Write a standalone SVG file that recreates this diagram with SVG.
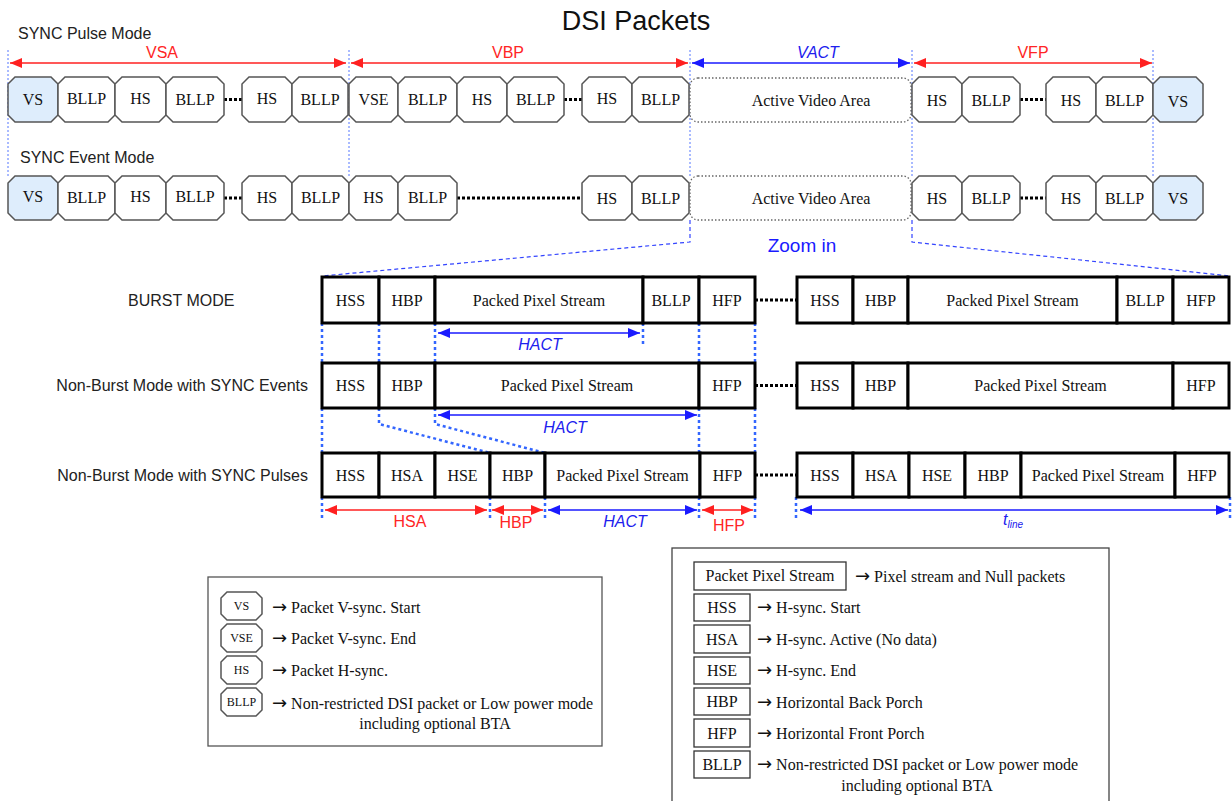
<svg xmlns="http://www.w3.org/2000/svg" width="1232" height="801" viewBox="0 0 1232 801">
<style>
.oct{fill:#fff;stroke:#555;stroke-width:1.5}
.octb{fill:#deedfc;stroke:#555;stroke-width:1.5}
.bt{font-family:"Liberation Serif",serif;font-size:16px;fill:#111;text-anchor:middle}
.lt{font-family:"Liberation Serif",serif;font-size:16px;fill:#111}
.ar{font-family:"DejaVu Sans",sans-serif;font-size:18px}
.st{font-family:"Liberation Serif",serif;font-size:12px;fill:#111;text-anchor:middle}
.sans{font-family:"Liberation Sans",Arial,sans-serif;font-size:16px;fill:#222}
.cell{fill:#fff;stroke:#000;stroke-width:3}
.lg{fill:#fff;stroke:#333;stroke-width:1.3}
.dots{stroke:#000;stroke-width:3;stroke-dasharray:3 2;fill:none}
.vthin{stroke:#5577ff;stroke-width:1;stroke-dasharray:2 2;fill:none}
.vthick{stroke:#3366ff;stroke-width:2.5;stroke-dasharray:3 3;fill:none}
.zoom{stroke:#3344ff;stroke-width:1.2;stroke-dasharray:4 3;fill:none}
.ared{stroke:#ff2020;stroke-width:1.5;fill:none;marker-start:url(#rs);marker-end:url(#re)}
.ablue{stroke:#1a1aff;stroke-width:1.5;fill:none;marker-start:url(#bs);marker-end:url(#be)}
.red{font-family:"Liberation Sans",Arial,sans-serif;font-size:16px;fill:#ff2525;text-anchor:middle}
.blue{font-family:"Liberation Sans",Arial,sans-serif;font-size:16px;fill:#2020ee;text-anchor:middle;font-style:italic}
.ava{fill:#fff;stroke:#666;stroke-width:1.3;stroke-dasharray:1.5 2}
</style>
<defs>
<marker id="re" viewBox="0 0 12 10" refX="12" refY="5" markerWidth="12" markerHeight="10" markerUnits="userSpaceOnUse" orient="auto"><path d="M0,0 L12,5 L0,10 Z" fill="#ff2020"/></marker>
<marker id="rs" viewBox="0 0 12 10" refX="0" refY="5" markerWidth="12" markerHeight="10" markerUnits="userSpaceOnUse" orient="auto"><path d="M12,0 L0,5 L12,10 Z" fill="#ff2020"/></marker>
<marker id="be" viewBox="0 0 12 10" refX="12" refY="5" markerWidth="12" markerHeight="10" markerUnits="userSpaceOnUse" orient="auto"><path d="M0,0 L12,5 L0,10 Z" fill="#1a1aff"/></marker>
<marker id="bs" viewBox="0 0 12 10" refX="0" refY="5" markerWidth="12" markerHeight="10" markerUnits="userSpaceOnUse" orient="auto"><path d="M12,0 L0,5 L12,10 Z" fill="#1a1aff"/></marker>
</defs>
<rect width="1232" height="801" fill="#fff"/>

<text x="636" y="30" font-family="Liberation Sans, Arial, sans-serif" font-size="27" fill="#111" text-anchor="middle">DSI Packets</text>
<text class="sans" x="18" y="39">SYNC Pulse Mode</text>
<text class="sans" x="20" y="163">SYNC Event Mode</text>
<text x="802" y="252" font-family="Liberation Sans, Arial, sans-serif" font-size="19" fill="#1a1aff" text-anchor="middle">Zoom in</text>
<text class="sans" x="128" y="306">BURST MODE</text>
<text class="sans" x="308" y="391" text-anchor="end">Non-Burst Mode with SYNC Events</text>
<text class="sans" x="308" y="481" text-anchor="end">Non-Burst Mode with SYNC Pulses</text>

<g id="connectors">
<path class="vthin" d="M8,50 V178 M349,50 V178 M690,50 V178 M912,50 V178 M1153,50 V178"/>
<path class="zoom" d="M690,220 V242 L322,276 M912,220 V242 L1230,276"/>
<path class="vthick" d="M322,323 V363 M379,323 V363 M435,323 V363 M699,323 V363 M755,323 V363 M643,323 V347"/>
<path class="vthick" d="M322,408 V453 M699,408 V453 M755,408 V453 M379,408 V424 L490,453 M435,408 V424 L545,453"/>
<path class="vthick" d="M322,497 V521 M490,497 V521 M545,497 V521 M699,497 V521 M755,497 V521 M796,497 V521 M1230,497 V521"/>
<path class="dots" d="M224,99.5 H242 M564,99.5 H582 M1020,99.5 H1046"/>
<path class="dots" d="M224,198 H242 M457,198 H582 M1020,198 H1046"/>
<path class="dots" d="M755,300 H796 M755,385.5 H796 M755,475 H796"/>
<path class="ared" d="M10,63 H346"/>
<path class="ared" d="M351,63 H688"/>
<path class="ablue" d="M692,63 H910"/>
<path class="ared" d="M914,63 H1152"/>
<path class="ablue" d="M438,333 H640"/>
<path class="ablue" d="M438,415 H697"/>
<path class="ared" d="M325,510 H487"/>
<path class="ared" d="M492,510 H543"/>
<path class="ablue" d="M548,510 H697"/>
<path class="ared" d="M702,510 H753"/>
<path class="ablue" d="M800,510 H1228"/>
</g>

<g id="dim-labels">
<text class="red" x="162" y="58">VSA</text>
<text class="red" x="508" y="58">VBP</text>
<text class="blue" x="818" y="58">VACT</text>
<text class="red" x="1033" y="58">VFP</text>
<text class="blue" x="540" y="350">HACT</text>
<text class="blue" x="565" y="433">HACT</text>
<text class="red" x="410" y="527">HSA</text>
<text class="red" x="516" y="528">HBP</text>
<text class="blue" x="625" y="527">HACT</text>
<text class="red" x="729" y="531">HFP</text>
<text x="1003" y="525" font-family="Liberation Sans, Arial, sans-serif" font-size="16" fill="#2020ee" font-style="italic">t<tspan font-size="10" dy="3">line</tspan></text>
</g>

<g id="row1">
<g id="r1-vs"><path class="octb" d="M15,77 H51 L58,84 V115 L51,122 H15 L8,115 V84 Z"/><text class="bt" x="33" y="105">VS</text></g>
<g id="r1-bllp1"><path class="oct" d="M65,77 H108 L115,84 V115 L108,122 H65 L58,115 V84 Z"/><text class="bt" x="86.5" y="104">BLLP</text></g>
<g id="r1-hs1"><path class="oct" d="M122,77 H159 L166,84 V115 L159,122 H122 L115,115 V84 Z"/><text class="bt" x="140.5" y="104">HS</text></g>
<g id="r1-bllp2"><path class="oct" d="M173,77 H217 L224,84 V115 L217,122 H173 L166,115 V84 Z"/><text class="bt" x="195" y="105">BLLP</text></g>
<g id="r1-hs2"><path class="oct" d="M249,77 H285 L292,84 V115 L285,122 H249 L242,115 V84 Z"/><text class="bt" x="267" y="104">HS</text></g>
<g id="r1-bllp3"><path class="oct" d="M299,77 H341 L348,84 V115 L341,122 H299 L292,115 V84 Z"/><text class="bt" x="320" y="105">BLLP</text></g>
<g id="r1-vse"><path class="oct" d="M356,77 H391 L398,84 V115 L391,122 H356 L349,115 V84 Z"/><text class="bt" x="373.5" y="105">VSE</text></g>
<g id="r1-bllp4"><path class="oct" d="M405,77 H450 L457,84 V115 L450,122 H405 L398,115 V84 Z"/><text class="bt" x="427.5" y="105">BLLP</text></g>
<g id="r1-hs3"><path class="oct" d="M464,77 H500 L507,84 V115 L500,122 H464 L457,115 V84 Z"/><text class="bt" x="482" y="105">HS</text></g>
<g id="r1-bllp5"><path class="oct" d="M514,77 H557 L564,84 V115 L557,122 H514 L507,115 V84 Z"/><text class="bt" x="535.5" y="105">BLLP</text></g>
<g id="r1-hs4"><path class="oct" d="M589,77 H625 L632,84 V115 L625,122 H589 L582,115 V84 Z"/><text class="bt" x="607" y="104">HS</text></g>
<g id="r1-bllp6"><path class="oct" d="M639,77 H682 L689,84 V115 L682,122 H639 L632,115 V84 Z"/><text class="bt" x="660.5" y="105">BLLP</text></g>
<g id="r1-ava"><rect class="ava" x="690" y="78" width="221" height="44" rx="8"/><text class="bt" x="811" y="106">Active Video Area</text></g>
<g id="r1-hs5"><path class="oct" d="M919,77 H955 L962,84 V115 L955,122 H919 L912,115 V84 Z"/><text class="bt" x="937" y="106">HS</text></g>
<g id="r1-bllp7"><path class="oct" d="M969,77 H1013 L1020,84 V115 L1013,122 H969 L962,115 V84 Z"/><text class="bt" x="991" y="106">BLLP</text></g>
<g id="r1-hs6"><path class="oct" d="M1053,77 H1089 L1096,84 V115 L1089,122 H1053 L1046,115 V84 Z"/><text class="bt" x="1071" y="106">HS</text></g>
<g id="r1-bllp8"><path class="oct" d="M1103,77 H1146 L1153,84 V115 L1146,122 H1103 L1096,115 V84 Z"/><text class="bt" x="1124.5" y="106">BLLP</text></g>
<g id="r1-vs2"><path class="octb" d="M1160,77 H1196 L1203,84 V115 L1196,122 H1160 L1153,115 V84 Z"/><text class="bt" x="1178" y="107">VS</text></g>
</g>

<g id="row2">
<g id="r2-vs"><path class="octb" d="M15,176 H51 L58,183 V213 L51,220 H15 L8,213 V183 Z"/><text class="bt" x="33" y="202">VS</text></g>
<g id="r2-bllp1"><path class="oct" d="M65,176 H108 L115,183 V213 L108,220 H65 L58,213 V183 Z"/><text class="bt" x="86.5" y="203">BLLP</text></g>
<g id="r2-hs1"><path class="oct" d="M122,176 H159 L166,183 V213 L159,220 H122 L115,213 V183 Z"/><text class="bt" x="140.5" y="202">HS</text></g>
<g id="r2-bllp2"><path class="oct" d="M173,176 H217 L224,183 V213 L217,220 H173 L166,213 V183 Z"/><text class="bt" x="195" y="202">BLLP</text></g>
<g id="r2-hs2"><path class="oct" d="M249,176 H285 L292,183 V213 L285,220 H249 L242,213 V183 Z"/><text class="bt" x="267" y="203">HS</text></g>
<g id="r2-bllp3"><path class="oct" d="M299,176 H342 L349,183 V213 L342,220 H299 L292,213 V183 Z"/><text class="bt" x="320.5" y="203">BLLP</text></g>
<g id="r2-hs3"><path class="oct" d="M356,176 H391 L398,183 V213 L391,220 H356 L349,213 V183 Z"/><text class="bt" x="373.5" y="203">HS</text></g>
<g id="r2-bllp4"><path class="oct" d="M405,176 H450 L457,183 V213 L450,220 H405 L398,213 V183 Z"/><text class="bt" x="427.5" y="203">BLLP</text></g>
<g id="r2-hs4"><path class="oct" d="M589,176 H625 L632,183 V213 L625,220 H589 L582,213 V183 Z"/><text class="bt" x="607" y="204">HS</text></g>
<g id="r2-bllp5"><path class="oct" d="M639,176 H682 L689,183 V213 L682,220 H639 L632,213 V183 Z"/><text class="bt" x="660.5" y="204">BLLP</text></g>
<g id="r2-ava"><rect class="ava" x="690" y="176" width="221" height="44" rx="8"/><text class="bt" x="811" y="204">Active Video Area</text></g>
<g id="r2-hs5"><path class="oct" d="M919,176 H955 L962,183 V213 L955,220 H919 L912,213 V183 Z"/><text class="bt" x="937" y="204">HS</text></g>
<g id="r2-bllp6"><path class="oct" d="M969,176 H1013 L1020,183 V213 L1013,220 H969 L962,213 V183 Z"/><text class="bt" x="991" y="204">BLLP</text></g>
<g id="r2-hs6"><path class="oct" d="M1053,176 H1089 L1096,183 V213 L1089,220 H1053 L1046,213 V183 Z"/><text class="bt" x="1071" y="204">HS</text></g>
<g id="r2-bllp7"><path class="oct" d="M1103,176 H1146 L1153,183 V213 L1146,220 H1103 L1096,213 V183 Z"/><text class="bt" x="1124.5" y="204">BLLP</text></g>
<g id="r2-vs2"><path class="octb" d="M1160,176 H1196 L1203,183 V213 L1196,220 H1160 L1153,213 V183 Z"/><text class="bt" x="1178" y="204">VS</text></g>
</g>

<g id="burst">
<g id="b-hss"><rect class="cell" x="322" y="277" width="57" height="46"/><text class="bt" x="350.5" y="306">HSS</text></g>
<g id="b-hbp"><rect class="cell" x="379" y="277" width="56" height="46"/><text class="bt" x="407" y="306">HBP</text></g>
<g id="b-pps"><rect class="cell" x="435" y="277" width="208" height="46"/><text class="bt" x="539" y="306">Packed Pixel Stream</text></g>
<g id="b-bllp"><rect class="cell" x="643" y="277" width="56" height="46"/><text class="bt" x="671" y="306">BLLP</text></g>
<g id="b-hfp"><rect class="cell" x="699" y="277" width="56" height="46"/><text class="bt" x="727" y="306">HFP</text></g>
<g id="b2-hss"><rect class="cell" x="797" y="277" width="56" height="46"/><text class="bt" x="825" y="306">HSS</text></g>
<g id="b2-hbp"><rect class="cell" x="853" y="277" width="55" height="46"/><text class="bt" x="880.5" y="306">HBP</text></g>
<g id="b2-pps"><rect class="cell" x="908" y="277" width="209" height="46"/><text class="bt" x="1012.5" y="306">Packed Pixel Stream</text></g>
<g id="b2-bllp"><rect class="cell" x="1117" y="277" width="56" height="46"/><text class="bt" x="1145" y="306">BLLP</text></g>
<g id="b2-hfp"><rect class="cell" x="1173" y="277" width="56" height="46"/><text class="bt" x="1201" y="306">HFP</text></g>
</g>

<g id="nbe">
<g id="e-hss"><rect class="cell" x="322" y="363" width="57" height="45"/><text class="bt" x="350.5" y="391">HSS</text></g>
<g id="e-hbp"><rect class="cell" x="379" y="363" width="56" height="45"/><text class="bt" x="407" y="391">HBP</text></g>
<g id="e-pps"><rect class="cell" x="435" y="363" width="264" height="45"/><text class="bt" x="567" y="391">Packed Pixel Stream</text></g>
<g id="e-hfp"><rect class="cell" x="699" y="363" width="56" height="45"/><text class="bt" x="727" y="391">HFP</text></g>
<g id="e2-hss"><rect class="cell" x="797" y="363" width="56" height="45"/><text class="bt" x="825" y="391">HSS</text></g>
<g id="e2-hbp"><rect class="cell" x="853" y="363" width="55" height="45"/><text class="bt" x="880.5" y="391">HBP</text></g>
<g id="e2-pps"><rect class="cell" x="908" y="363" width="265" height="45"/><text class="bt" x="1040.5" y="391">Packed Pixel Stream</text></g>
<g id="e2-hfp"><rect class="cell" x="1173" y="363" width="56" height="45"/><text class="bt" x="1201" y="391">HFP</text></g>
</g>

<g id="nbp">
<g id="p-hss"><rect class="cell" x="322" y="453" width="57" height="44"/><text class="bt" x="350.5" y="481">HSS</text></g>
<g id="p-hsa"><rect class="cell" x="379" y="453" width="56" height="44"/><text class="bt" x="407" y="481">HSA</text></g>
<g id="p-hse"><rect class="cell" x="435" y="453" width="55" height="44"/><text class="bt" x="462.5" y="481">HSE</text></g>
<g id="p-hbp"><rect class="cell" x="490" y="453" width="55" height="44"/><text class="bt" x="517.5" y="481">HBP</text></g>
<g id="p-pps"><rect class="cell" x="545" y="453" width="155" height="44"/><text class="bt" x="622.5" y="481">Packed Pixel Stream</text></g>
<g id="p-hfp"><rect class="cell" x="700" y="453" width="55" height="44"/><text class="bt" x="727.5" y="481">HFP</text></g>
<g id="p2-hss"><rect class="cell" x="797" y="453" width="56" height="44"/><text class="bt" x="825" y="481">HSS</text></g>
<g id="p2-hsa"><rect class="cell" x="853" y="453" width="56" height="44"/><text class="bt" x="881" y="481">HSA</text></g>
<g id="p2-hse"><rect class="cell" x="909" y="453" width="56" height="44"/><text class="bt" x="937" y="481">HSE</text></g>
<g id="p2-hbp"><rect class="cell" x="965" y="453" width="56" height="44"/><text class="bt" x="993" y="481">HBP</text></g>
<g id="p2-pps"><rect class="cell" x="1021" y="453" width="154" height="44"/><text class="bt" x="1098" y="481">Packed Pixel Stream</text></g>
<g id="p2-hfp"><rect class="cell" x="1175" y="453" width="54" height="44"/><text class="bt" x="1202" y="481">HFP</text></g>
</g>

<g id="legend1">
<rect x="208" y="577" width="394" height="169" fill="#fff" stroke="#555" stroke-width="1.3"/>
<path class="oct" d="M227,592 H256 L262,598 V614 L256,620 H227 L221,614 V598 Z"/><text class="st" x="241.5" y="610">VS</text>
<text class="lt" x="272" y="613"><tspan class="ar">→</tspan> Packet V-sync. Start</text>
<path class="oct" d="M227,624 H256 L262,630 V646 L256,652 H227 L221,646 V630 Z"/><text class="st" x="241.5" y="642">VSE</text>
<text class="lt" x="272" y="644"><tspan class="ar">→</tspan> Packet V-sync. End</text>
<path class="oct" d="M227,656 H256 L262,662 V678 L256,684 H227 L221,678 V662 Z"/><text class="st" x="241.5" y="674">HS</text>
<text class="lt" x="272" y="676"><tspan class="ar">→</tspan> Packet H-sync.</text>
<path class="oct" d="M227,688 H256 L262,694 V710 L256,716 H227 L221,710 V694 Z"/><text class="st" x="241.5" y="706">BLLP</text>
<text class="lt" x="272" y="709"><tspan class="ar">→</tspan> Non-restricted DSI packet or Low power mode</text>
<text class="bt" x="435" y="729">including optional BTA</text>
</g>

<g id="legend2">
<rect x="672" y="548" width="437" height="262" fill="#fff" stroke="#444" stroke-width="1.3"/>
<rect class="lg" x="694" y="562" width="152" height="28"/><text class="bt" x="770" y="581">Packet Pixel Stream</text>
<text class="lt" x="855" y="582"><tspan class="ar">→</tspan> Pixel stream and Null packets</text>
<rect class="lg" x="694" y="594" width="56" height="27"/><text class="bt" x="722" y="613">HSS</text>
<text class="lt" x="757" y="613"><tspan class="ar">→</tspan> H-sync. Start</text>
<rect class="lg" x="694" y="625" width="56" height="28"/><text class="bt" x="722" y="644.5">HSA</text>
<text class="lt" x="757" y="645"><tspan class="ar">→</tspan> H-sync. Active (No data)</text>
<rect class="lg" x="694" y="657" width="56" height="27"/><text class="bt" x="722" y="676">HSE</text>
<text class="lt" x="757" y="676"><tspan class="ar">→</tspan> H-sync. End</text>
<rect class="lg" x="694" y="688" width="56" height="27"/><text class="bt" x="722" y="707">HBP</text>
<text class="lt" x="757" y="708"><tspan class="ar">→</tspan> Horizontal Back Porch</text>
<rect class="lg" x="694" y="719" width="56" height="28"/><text class="bt" x="722" y="738.5">HFP</text>
<text class="lt" x="757" y="739"><tspan class="ar">→</tspan> Horizontal Front Porch</text>
<rect class="lg" x="694" y="751" width="56" height="27"/><text class="bt" x="722" y="770">BLLP</text>
<text class="lt" x="757" y="770"><tspan class="ar">→</tspan> Non-restricted DSI packet or Low power mode</text>
<text class="bt" x="917" y="791">including optional BTA</text>
</g>
</svg>
